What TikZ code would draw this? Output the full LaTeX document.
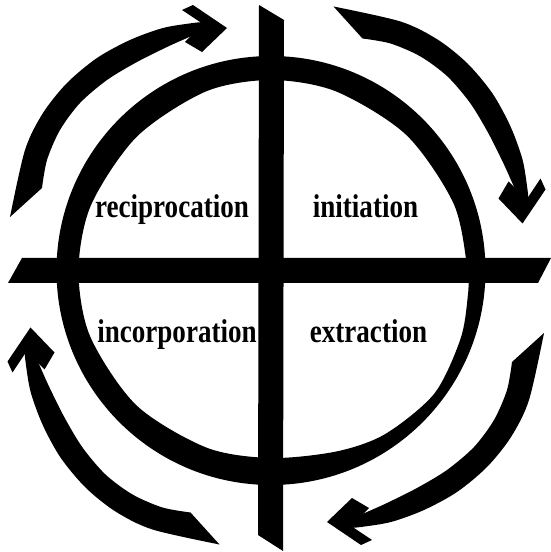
\documentclass[tikz,border=0pt]{standalone}
\usepackage{fontspec}
\setmainfont{Liberation Serif}
\newcommand{\BrushArrow}{%
  \fill[ink] plot[smooth] coordinates {(10,335) (25,402) (43,439) (67,469) (97,494) (130,512) (163,524) (193,529) (205,530)}
    -- plot[smooth] coordinates {(205,522) (187,514) (167,505) (137,490) (107,472) (80,449) (60,422) (47,392) (42,364)} -- cycle;
  \fill[ink] (227,524) -- (193,547) -- (182,542) -- (203,528) -- (185,510) -- (202,500) -- cycle;
}
\begin{document}
\begin{tikzpicture}[x=1pt,y=1pt,
  lbl/.style={font=\fontsize{33}{33}\selectfont\bfseries, xscale=0.82, inner sep=0pt, anchor=base},
  ink/.style={fill=black}]
\fill[white] (0,0) rectangle (551,552);
\useasboundingbox (0,0) rectangle (551,552);
\coordinate (C) at (271,281.5);
% ring
\begin{scope}[shift={(271,281.5)}]
  \fill[ink, even odd rule] (0,0) circle[radius=214.5]
    plot[smooth cycle] coordinates {(0:196.5) (20:194.5) (45:191.5) (70:190.5) (90:190.5) (110:190.5) (135:189.5) (160:191.5) (180:192.5) (200:192.5) (225:190.5) (250:188.5) (270:187.5) (290:192.5) (305:199.5) (323:204.5) (340:201.5) (352:198.5)};
\end{scope}
% bars
\fill[ink] (259,547) -- (284,532) -- (283,1) -- (258,17) -- cycle;
\fill[ink] (22,294) -- (551,294) -- (538,269) -- (8,269) -- cycle;
% arrows
\BrushArrow
\begin{scope}[shift={(9,3)}, rotate around={-90:(271,281.5)}]\BrushArrow\end{scope}
\begin{scope}[shift={(12,-9)}, rotate around={180:(271,281.5)}]\BrushArrow\end{scope}
\begin{scope}[shift={(2,-13)}, rotate around={90:(271,281.5)}]\BrushArrow\end{scope}
% labels
\node[lbl] (rec) at (172,334) {reciprocation};
\node[lbl] (ini) at (365.5,334) {initiation};
\node[lbl] (inc) at (177,209) {incorporation};
\node[lbl] (ext) at (368.5,209) {extraction};
\end{tikzpicture}
\end{document}
